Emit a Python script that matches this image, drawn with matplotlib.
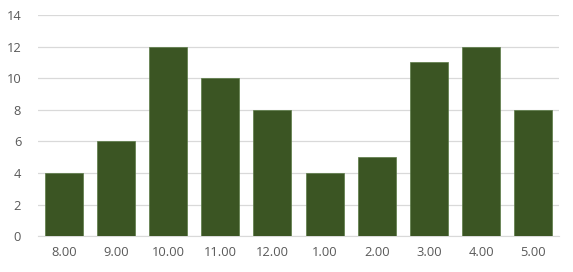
import numpy as np
import matplotlib
matplotlib.use("Agg")
import matplotlib.pyplot as plt

# hours and counts
hours = ["8.00", "9.00", "10.00", "11.00", "12.00", "1.00", "2.00", "3.00", "4.00", "5.00"]
counts = [4, 6, 12, 10, 8, 4, 5, 11, 12, 8]

plt.rcParams['font.family'] = ['Open Sans', 'DejaVu Sans']

fig = plt.figure(figsize=(5.73, 2.72), dpi=100)
ax = fig.add_axes([0.066, 0.132, 0.91, 0.813])

x = np.arange(len(hours))
ax.bar(x, counts, width=0.73, color='#3B5523', edgecolor='#5a7a45', linewidth=0.5, zorder=3)

ax.set_xlim(-0.5, len(hours) - 0.5)
ax.set_ylim(0, 14)
ax.set_yticks(range(0, 15, 2))
ax.set_xticks(x)
ax.set_xticklabels(hours)

ax.grid(axis='y', color='#D9D9D9', linewidth=0.9, zorder=0)
for s in ['top', 'right', 'left']:
    ax.spines[s].set_visible(False)
ax.spines['bottom'].set_color('#D9D9D9')
ax.tick_params(axis='both', length=0, labelsize=9.3, labelcolor='#595959')
ax.tick_params(axis='x', pad=7)
ax.tick_params(axis='y', pad=12)

fig.savefig("out.png", dpi=100)
